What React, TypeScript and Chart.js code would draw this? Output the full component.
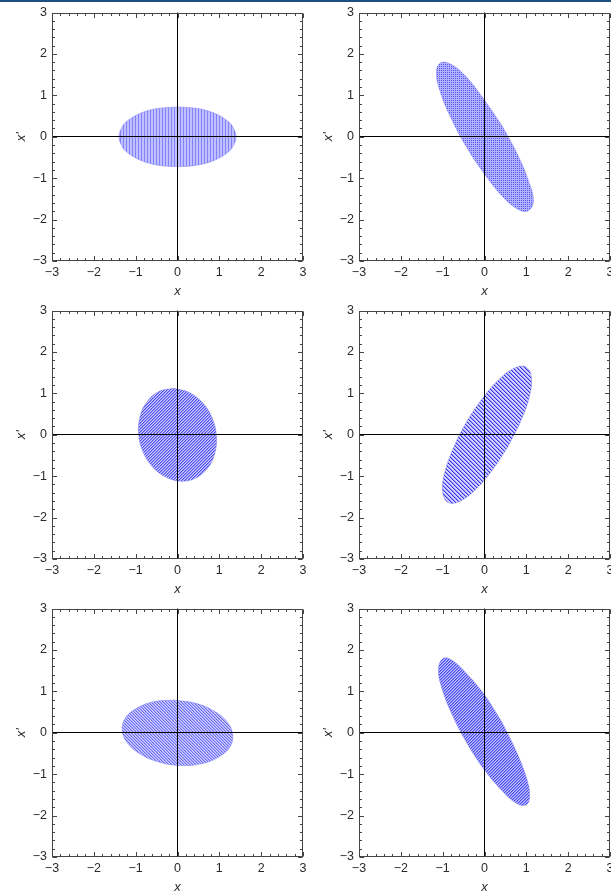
import React, { useEffect, useRef } from 'react';
import { Chart, registerables } from 'chart.js';

Chart.register(...registerables);

// ---------- data ----------
const axisMin = -3;
const axisMax = 3;
const majorTicks = [-3, -2, -1, 0, 1, 2, 3];
const tickLabels = ['−3', '−2', '−1', '0', '1', '2', '3'];
const minorTicks = [-2.8, -2.6, -2.4, -2.2, -1.8, -1.6, -1.4, -1.2, -0.8, -0.6, -0.4, -0.2, 0.2, 0.4, 0.6, 0.8, 1.2, 1.4, 1.6, 1.8, 2.2, 2.4, 2.6, 2.8];
const xAxisTitle = 'x';
const yAxisTitle = "x'";

// outline of each point cloud (x, x')
const p1x = [0, 0.5, 0.9, 1.2, 1.32, 1.4, 1.32, 1.2, 0.9, 0.5, 0, -0.5, -0.9, -1.2, -1.32, -1.4, -1.32, -1.2, -0.9, -0.5, 0];
const p1y = [0.72, 0.68, 0.56, 0.38, 0.24, 0, -0.24, -0.38, -0.56, -0.68, -0.72, -0.68, -0.56, -0.38, -0.24, 0, 0.24, 0.38, 0.56, 0.68, 0.72];

const p2x = [0.43, 0.8, 1.06, 1.17, 1.04, 0.8, 0.43, 0.0, -0.43, -0.8, -1.06, -1.15, -1.04, -0.8, -0.43, 0.0, 0.43];
const p2y = [0.25, -0.45, -1.09, -1.56, -1.79, -1.75, -1.44, -0.9, -0.25, 0.45, 1.09, 1.58, 1.79, 1.75, 1.44, 0.88, 0.25];

const p3x = [-0.08, 0.28, 0.6, 0.83, 0.93, 0.89, 0.72, 0.43, 0.08, -0.28, -0.6, -0.83, -0.93, -0.89, -0.72, -0.43, -0.08];
const p3y = [1.12, 1.02, 0.77, 0.4, -0.03, -0.46, -0.81, -1.05, -1.12, -1.02, -0.77, -0.4, 0.03, 0.46, 0.81, 1.05, 1.12];

const p4x = [0.56, 0.16, -0.25, -0.62, -0.88, -1.0, -0.96, -0.76, -0.44, -0.04, 0.37, 0.74, 1.0, 1.12, 1.08, 0.88, 0.56];
const p4y = [-0.29, -0.89, -1.36, -1.62, -1.63, -1.39, -0.95, -0.36, 0.29, 0.89, 1.36, 1.62, 1.63, 1.39, 0.95, 0.36, -0.29];

const p5x = [-0.07, 0.44, 0.88, 1.19, 1.32, 1.25, 0.98, 0.57, 0.07, -0.44, -0.88, -1.19, -1.32, -1.25, -0.98, -0.57, -0.07];
const p5y = [0.79, 0.71, 0.52, 0.26, -0.05, -0.35, -0.59, -0.75, -0.79, -0.71, -0.52, -0.26, 0.05, 0.35, 0.59, 0.75, 0.79];

const p6x = [0.42, 0.76, 1.0, 1.08, 1.0, 0.76, 0.42, 0.0, -0.42, -0.78, -1.02, -1.1, -0.98, -0.76, -0.42, 0.01, 0.42];
const p6y = [0.25, -0.45, -1.08, -1.52, -1.74, -1.7, -1.4, -0.9, -0.25, 0.45, 1.08, 1.55, 1.8, 1.74, 1.42, 0.9, 0.25];

// ---------- styles ----------
type Tex = { kind: string; n: number; light: string; dark: string; mid?: string };

const textures: Tex[] = [
  { kind: 'vstripe', n: 3, light: 'rgb(192,192,255)', dark: 'rgb(130,130,252)' },
  { kind: 'dots', n: 2, light: 'rgb(178,178,255)', dark: 'rgb(85,85,240)' },
  { kind: 'diagA', n: 3, light: 'rgb(205,205,255)', dark: 'rgb(75,75,238)', mid: 'rgb(150,150,250)' },
  { kind: 'diagB', n: 4, light: 'rgb(212,212,255)', dark: 'rgb(50,50,232)', mid: 'rgb(150,150,250)' },
  { kind: 'diagB', n: 3, light: 'rgb(205,205,255)', dark: 'rgb(110,110,245)', mid: 'rgb(170,170,255)' },
  { kind: 'diagA', n: 3, light: 'rgb(195,195,255)', dark: 'rgb(72,72,238)', mid: 'rgb(140,140,250)' },
];

function makePattern(t: Tex): CanvasPattern | string {
  const c = document.createElement('canvas');
  const n = t.n;
  c.width = n;
  c.height = n;
  const g = c.getContext('2d');
  if (!g) return t.light;
  g.fillStyle = t.light;
  g.fillRect(0, 0, n, n);
  for (let i = 0; i < n; i++) {
    for (let j = 0; j < n; j++) {
      let col: string | null = null;
      if (t.kind === 'vstripe') col = i === 0 ? t.dark : null;
      else if (t.kind === 'dots') col = i === 0 && j === 0 ? t.dark : null;
      else {
        const k = t.kind === 'diagA' ? (i + j) % n : (i - j + n) % n;
        col = k === 0 ? t.dark : k === 1 ? (t.mid || null) : null;
      }
      if (col) {
        g.fillStyle = col;
        g.fillRect(i, j, 1, 1);
      }
    }
  }
  const p = g.createPattern(c, 'repeat');
  return p || t.light;
}

const FONT = "'Liberation Sans', Arial, sans-serif";
const labelColor = '#2a2a2a';
const frameColor = '#444';

const frameTicksPlugin = {
  id: 'frameTicks',
  afterDraw(chart: any) {
    const { ctx, chartArea } = chart;
    const { left, right, top, bottom } = chartArea;
    const xs = chart.scales.x;
    const ys = chart.scales.y;
    ctx.save();
    ctx.strokeStyle = frameColor;
    ctx.lineWidth = 1;
    const L = Math.round(left) + 0.5;
    const R = Math.round(right) - 0.5;
    const T = Math.round(top) + 0.5;
    const B = Math.round(bottom) - 0.5;
    ctx.strokeRect(L, T, R - L, B - T);
    const mark = (vals: number[], len: number) => {
      ctx.beginPath();
      vals.forEach((v) => {
        const px = Math.round(xs.getPixelForValue(v)) + 0.5;
        ctx.moveTo(px, B);
        ctx.lineTo(px, B - len);
        ctx.moveTo(px, T);
        ctx.lineTo(px, T + len);
        const py = Math.round(ys.getPixelForValue(v)) + 0.5;
        ctx.moveTo(L, py);
        ctx.lineTo(L + len, py);
        ctx.moveTo(R, py);
        ctx.lineTo(R - len, py);
      });
      ctx.stroke();
    };
    mark(majorTicks, 4.5);
    mark(minorTicks, 2.5);
    ctx.restore();
  },
};

const Y_AXIS_W = 52;
const X_AXIS_H = 40;
const PAD_TOP = 11;
const PLOT_W = 251;
const PLOT_H = 250;
const CANVAS_W = Y_AXIS_W + PLOT_W + 10;
const CANVAS_H = PAD_TOP + PLOT_H + X_AXIS_H;

function scaleOpts(isX: boolean) {
  return {
    type: 'linear' as const,
    min: axisMin,
    max: axisMax,
    afterBuildTicks: (s: any) => {
      s.ticks = majorTicks.map((v) => ({ value: v }));
    },
    afterFit: (s: any) => {
      if (isX) s.height = X_AXIS_H;
      else s.width = Y_AXIS_W;
    },
    ticks: {
      autoSkip: false,
      maxRotation: 0,
      minRotation: 0,
      padding: isX ? 4 : 5,
      color: labelColor,
      font: { family: FONT, size: 12.5 },
      callback: (v: any) => {
        const i = majorTicks.indexOf(Number(v));
        return i >= 0 ? tickLabels[i] : '';
      },
    },
    grid: {
      drawTicks: false,
      lineWidth: 1,
      z: 1,
      color: (c: any) => (c.tick && c.tick.value === 0 ? '#000' : 'rgba(0,0,0,0)'),
    },
    border: { display: false },
    title: {
      display: true,
      text: isX ? xAxisTitle : yAxisTitle,
      color: labelColor,
      font: { family: FONT, size: 13, style: 'italic' as const, lineHeight: 1 },
      padding: isX ? { top: 0, bottom: 3 } : { top: 14.5, bottom: 0 },
    },
  };
}

function Panel(props: { xs: number[]; ys: number[]; tex: Tex; left: number; top: number }) {
  const ref = useRef<HTMLCanvasElement>(null);
  useEffect(() => {
    if (!ref.current) return;
    const pts = props.xs.map((x, i) => ({ x, y: props.ys[i] }));
    const chart = new Chart(ref.current, {
      type: 'scatter',
      data: {
        datasets: [
          {
            data: pts,
            showLine: true,
            fill: 'shape',
            tension: 0.4,
            pointRadius: 0,
            borderWidth: 1,
            borderColor: 'rgba(120,120,248,0.45)',
            backgroundColor: makePattern(props.tex) as any,
          } as any,
        ],
      },
      options: {
        responsive: false,
        animation: false,
        devicePixelRatio: 1,
        layout: { padding: { left: 0, right: CANVAS_W - Y_AXIS_W - PLOT_W, top: PAD_TOP, bottom: 0 } },
        plugins: { legend: { display: false }, tooltip: { enabled: false } },
        scales: { x: scaleOpts(true), y: scaleOpts(false) } as any,
      },
      plugins: [frameTicksPlugin],
    });
    return () => chart.destroy();
  }, []);
  return (
    <canvas
      ref={ref}
      width={CANVAS_W}
      height={CANVAS_H}
      style={{ position: 'absolute', left: props.left - Y_AXIS_W, top: props.top - PAD_TOP, width: CANVAS_W, height: CANVAS_H }}
    />
  );
}

const colLefts = [52, 359];
const rowTops = [11, 309, 607];

export default function App() {
  const panels = [
    { xs: p1x, ys: p1y },
    { xs: p2x, ys: p2y },
    { xs: p3x, ys: p3y },
    { xs: p4x, ys: p4y },
    { xs: p5x, ys: p5y },
    { xs: p6x, ys: p6y },
  ];
  return (
    <div style={{ position: 'fixed', left: 0, top: 0, width: 611, height: 895, overflow: 'hidden', background: '#fff' }}>
      <div style={{ position: 'absolute', left: 0, top: 0, width: 611, height: 2, background: '#1f4f80' }} />
      {panels.map((p, i) => (
        <Panel
          key={i}
          xs={p.xs}
          ys={p.ys}
          tex={textures[i]}
          left={colLefts[i % 2]}
          top={rowTops[Math.floor(i / 2)]}
        />
      ))}
    </div>
  );
}
